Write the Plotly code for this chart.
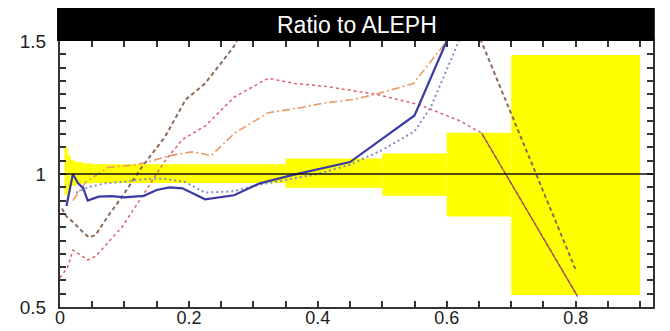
import numpy as np
import plotly.graph_objects as go

# ALEPH uncertainty band (bin edges, low, high)
band_edges = [0.007, 0.012, 0.017, 0.025, 0.035, 0.05, 0.35, 0.50, 0.60, 0.70, 0.90]
band_low = [0.92, 0.94, 0.955, 0.962, 0.965, 0.966, 0.948, 0.918, 0.84, 0.545]
band_high = [1.10, 1.07, 1.05, 1.045, 1.04, 1.037, 1.058, 1.077, 1.155, 1.447]

blue_x = [0.010, 0.013, 0.02, 0.028, 0.036, 0.043, 0.06, 0.08, 0.10, 0.13, 0.15, 0.17, 0.19,
          0.225, 0.27, 0.31, 0.36, 0.45, 0.55, 0.60, 0.63]
blue_y = [0.88, 0.92, 1.0, 0.965, 0.947, 0.90, 0.915, 0.917, 0.912, 0.918, 0.94, 0.95, 0.946,
          0.905, 0.92, 0.965, 0.996, 1.045, 1.22, 1.5, 1.65]

bdot_x = [0.025, 0.043, 0.07, 0.097, 0.127, 0.16, 0.194, 0.225, 0.27, 0.30, 0.40, 0.45, 0.50,
          0.55, 0.575, 0.62, 0.64]
bdot_y = [0.93, 0.95, 0.965, 0.97, 0.98, 0.983, 0.97, 0.93, 0.935, 0.955, 1.0, 1.035, 1.09,
          1.16, 1.25, 1.5, 1.62]

brown_x = [0.003, 0.01, 0.02, 0.036, 0.045, 0.055, 0.074, 0.096, 0.127, 0.163, 0.195, 0.225,
           0.27, 0.30, 0.40, 0.50, 0.60, 0.65, 0.80]
brown_y = [0.87, 0.84, 0.82, 0.78, 0.762, 0.77, 0.84, 0.914, 1.026, 1.14, 1.28, 1.34,
           1.48, 1.62, 1.9, 2.0, 1.85, 1.52, 0.64]

red_x = [0.0, 0.012, 0.02, 0.034, 0.043, 0.055, 0.096, 0.127, 0.163, 0.19, 0.225, 0.271,
         0.323, 0.364, 0.41, 0.49, 0.558, 0.62, 0.654, 0.803]
red_y = [0.61, 0.65, 0.714, 0.69, 0.677, 0.69, 0.80, 0.914, 1.05, 1.13, 1.18, 1.29,
         1.36, 1.34, 1.33, 1.30, 1.26, 1.20, 1.154, 0.54]

orange_x = [0.02, 0.04, 0.075, 0.12, 0.173, 0.205, 0.235, 0.271, 0.323, 0.375, 0.41, 0.455,
            0.49, 0.548, 0.594, 0.61]
orange_y = [0.90, 0.97, 1.025, 1.035, 1.07, 1.083, 1.07, 1.154, 1.23, 1.25, 1.267, 1.28,
            1.30, 1.34, 1.48, 1.56]

title_text = "Ratio to ALEPH"
xtick_labels = {0.0: "0", 0.2: "0.2", 0.4: "0.4", 0.6: "0.6", 0.8: "0.8"}
ytick_labels = {0.5: "0.5", 1.0: "1", 1.5: "1.5"}

edges = np.array(band_edges)
centers = (edges[:-1] + edges[1:]) / 2
widths = edges[1:] - edges[:-1]
lows = np.array(band_low)
highs = np.array(band_high)

xt = np.round(np.arange(0, 0.9201, 0.05), 2)
yt = np.round(np.arange(0.5, 1.5001, 0.05), 2)
xtt = [xtick_labels.get(float(v), "") for v in xt]
ytt = [ytick_labels.get(float(v), "") for v in yt]

fig = go.Figure()
fig.add_trace(go.Bar(x=centers, y=highs - lows, base=lows, width=widths,
                     marker=dict(color="#ffff00", line=dict(width=0)),
                     showlegend=False, hoverinfo="skip"))
fig.add_trace(go.Scatter(x=red_x, y=red_y, mode="lines",
                         line=dict(color="#e0606e", width=1.5, dash="dot"), showlegend=False))
fig.add_trace(go.Scatter(x=red_x[-2:], y=red_y[-2:], mode="lines",
                         line=dict(color="#9a4a44", width=1.2), showlegend=False))
fig.add_trace(go.Scatter(x=orange_x, y=orange_y, mode="lines",
                         line=dict(color="#e89a6a", width=1.6, dash="8px,3px,2px,3px"),
                         showlegend=False))
fig.add_trace(go.Scatter(x=brown_x, y=brown_y, mode="lines",
                         line=dict(color="#8c6a58", width=2, dash="4px,3px"), showlegend=False))
fig.add_trace(go.Scatter(x=bdot_x, y=bdot_y, mode="lines",
                         line=dict(color="#7d8fc4", width=2, dash="2px,3px"), showlegend=False))
fig.add_trace(go.Scatter(x=blue_x, y=blue_y, mode="lines",
                         line=dict(color="#3a3aa6", width=2.2), showlegend=False))

# reference line at ratio 1
fig.add_shape(type="line", xref="paper", yref="y", x0=0, x1=1, y0=1, y1=1,
              line=dict(color="#111111", width=1.5), layer="above")
# black title band
fig.add_shape(type="rect", xref="paper", yref="paper", x0=-0.005, x1=1.003, y0=1.0, y1=1.124,
              fillcolor="black", line=dict(width=0), layer="above")
fig.add_annotation(text=title_text, xref="paper", yref="paper", x=0.5, y=1.062,
                   xanchor="center", yanchor="middle", showarrow=False,
                   font=dict(family="Liberation Sans", size=23, color="white"))

axis_common = dict(ticks="inside", ticklen=6, tickwidth=1.5, tickcolor="#333",
                   showline=True, linewidth=2, linecolor="#333", mirror="ticks",
                   showgrid=False, zeroline=False, automargin=False)
fig.update_xaxes(range=[0, 0.92], tickmode="array", tickvals=xt, ticktext=xtt,
                 ticklabelstandoff=-7,
                 tickfont=dict(family="Liberation Sans", size=18, color="#222"), **axis_common)
fig.update_yaxes(range=[0.5, 1.5], tickmode="array", tickvals=yt, ticktext=ytt,
                 ticklabelstandoff=8,
                 tickfont=dict(family="Liberation Sans", size=19, color="#222"), **axis_common)

fig.update_layout(width=670, height=331, margin=dict(l=60, r=17, t=41, b=24),
                  plot_bgcolor="white", paper_bgcolor="white", barmode="overlay",
                  showlegend=False)

fig.write_html("out.html")
